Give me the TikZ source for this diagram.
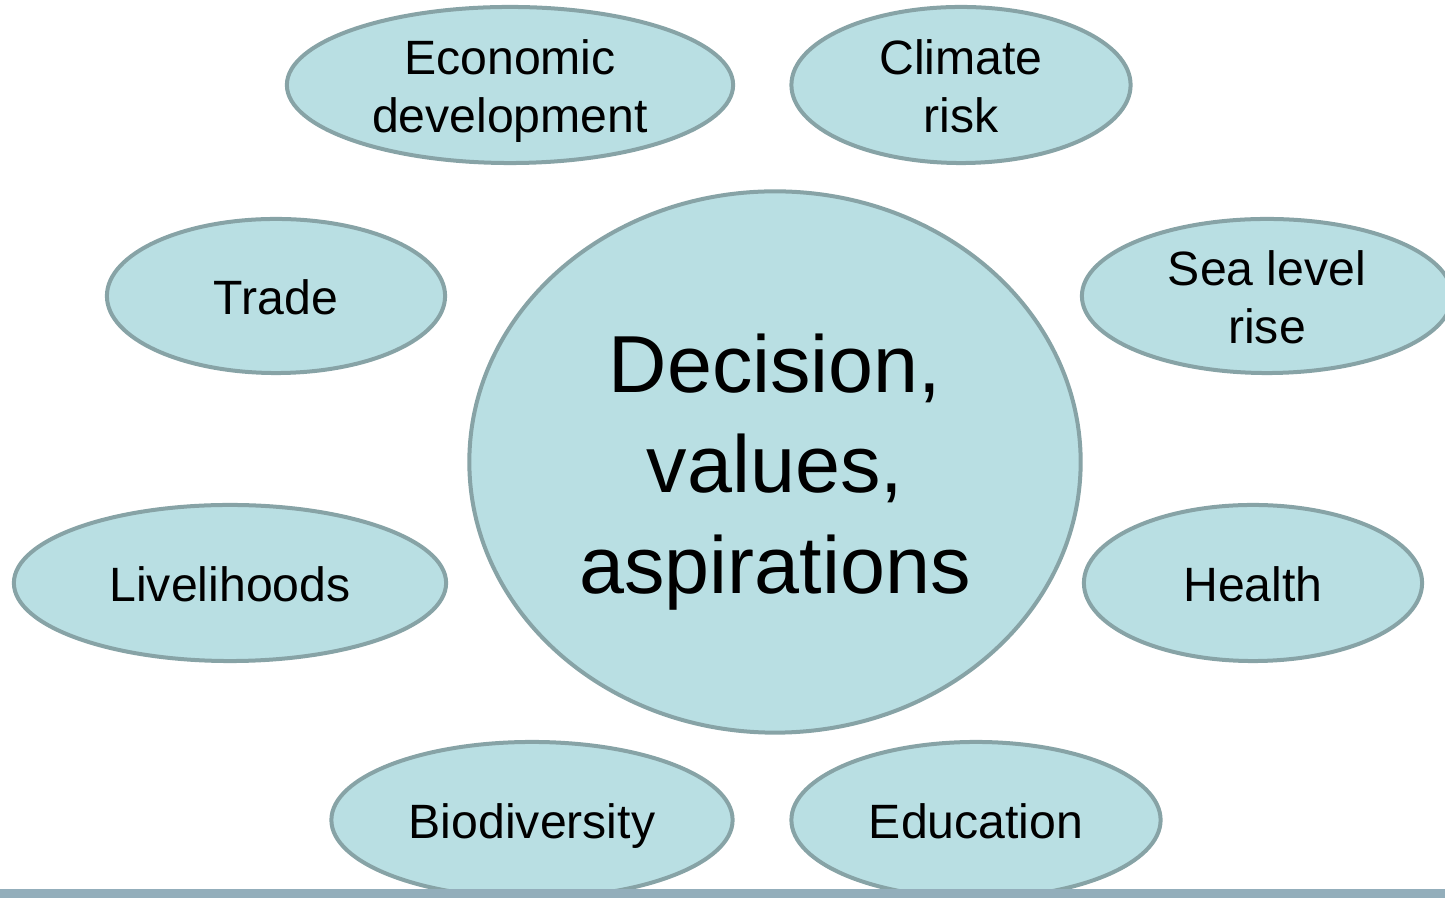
\documentclass[tikz,border=0pt]{standalone}
\usepackage{fontspec}
\setmainfont{Liberation Sans}
\usepackage{xcolor}
\usetikzlibrary{shapes.geometric}

\definecolor{bubblefill}{HTML}{B9DFE3}
\definecolor{bubbleline}{HTML}{87A3A6}
\definecolor{barcol}{HTML}{93AEBB}

% struts keep the baselines where the slide has them
\newcommand\bstrut{\rule[-3pt]{0pt}{16.5pt}}
\newcommand\hstrut{\rule[-5pt]{0pt}{27.6pt}}

\begin{document}
\begin{tikzpicture}[x=0.01cm,y=-0.01cm,
    bubble/.style={ellipse,draw=bubbleline,fill=bubblefill,line width=0.04cm,
      inner xsep=0pt,inner ysep=-4pt,align=center,minimum height=1.56cm,
      font=\fontsize{13.7}{16.5}\selectfont},
    hub/.style={bubble,minimum width=6.11cm,minimum height=5.41cm,
      font=\fontsize{23}{27}\selectfont}]
  \useasboundingbox (0,0) rectangle (1445,898);
  \node[hub] (dva) at (775,462) {\hstrut Decision,\\\hstrut values,\\\hstrut aspirations};
  \node[bubble,minimum width=4.46cm] (econ) at (510,85) {\bstrut Economic\\\bstrut development};
  \node[bubble,minimum width=3.39cm] (clim) at (961,85) {\bstrut Climate\\\bstrut risk};
  \node[bubble,minimum width=3.38cm,minimum height=1.54cm] (trade) at (276,296) {\bstrut Trade};
  \node[bubble,minimum width=3.70cm,minimum height=1.54cm] (sea) at (1267,296) {\bstrut Sea level\\\bstrut rise};
  \node[bubble,minimum width=4.32cm] (live) at (230,583) {\bstrut Livelihoods};
  \node[bubble,minimum width=3.38cm] (health) at (1253,583) {\bstrut Health};
  \node[bubble,minimum width=4.01cm] (bio) at (532,820) {\bstrut Biodiversity};
  \node[bubble,minimum width=3.69cm] (edu) at (976,820) {\bstrut Education};
  \fill[barcol] (0,889) rectangle (1445,898);
\end{tikzpicture}
\end{document}
